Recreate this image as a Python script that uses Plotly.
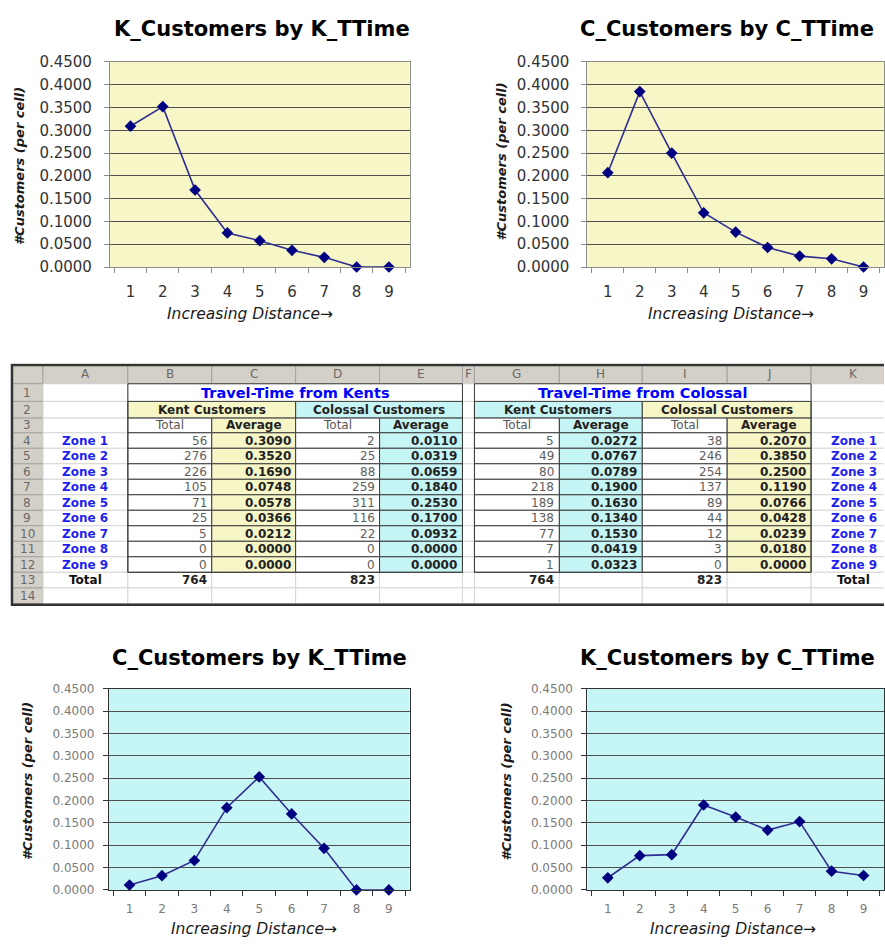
import plotly.graph_objects as go

W, H = 885, 947

# ---------------- data ----------------
distance = [1, 2, 3, 4, 5, 6, 7, 8, 9]
zones = ["Zone 1", "Zone 2", "Zone 3", "Zone 4", "Zone 5", "Zone 6", "Zone 7", "Zone 8", "Zone 9"]

# travel time measured from Kents
kt_kent_total = [56, 276, 226, 105, 71, 25, 5, 0, 0]
kt_kent_avg = [0.3090, 0.3520, 0.1690, 0.0748, 0.0578, 0.0366, 0.0212, 0.0000, 0.0000]
kt_col_total = [2, 25, 88, 259, 311, 116, 22, 0, 0]
kt_col_avg = [0.0110, 0.0319, 0.0659, 0.1840, 0.2530, 0.1700, 0.0932, 0.0000, 0.0000]

# travel time measured from Colossal
ct_kent_total = [5, 49, 80, 218, 189, 138, 77, 7, 1]
ct_kent_avg = [0.0272, 0.0767, 0.0789, 0.1900, 0.1630, 0.1340, 0.1530, 0.0419, 0.0323]
ct_col_total = [38, 246, 254, 137, 89, 44, 12, 3, 0]
ct_col_avg = [0.2070, 0.3850, 0.2500, 0.1190, 0.0766, 0.0428, 0.0239, 0.0180, 0.0000]

col_letters = ["", "A", "B", "C", "D", "E", "F", "G", "H", "I", "J", "K"]

# ---------------- styling ----------------
FONT = "DejaVu Sans"
YELLOW = "#F6F6C6"
CYAN = "#C6F5F5"
NAVY = "#000080"
LINE = "#2E2E92"
HDR_GRAY = "#D4D0C8"
LIGHT = "#D6D6D6"
DARK = "#3C3C3C"


def px(x):
    return x / W


def py(y):
    return 1 - y / H


charts = [
    dict(vals=kt_kent_avg, title="K_Customers by K_TTime", bg=YELLOW,
         box=(110, 54, 410, 263), tsize=15, tcolor="#333333", frame="#8C8C8C",
         title_xy=(262, 20), ylab_xy=(20, 160), xlab_xy=(250, 311), stand=(9, 11)),
    dict(vals=ct_col_avg, title="C_Customers by C_TTime", bg=YELLOW,
         box=(588, 54, 885, 263), tsize=15, tcolor="#333333", frame="#8C8C8C",
         title_xy=(728, 20), ylab_xy=(502, 155), xlab_xy=(732, 311), stand=(9, 11)),
    dict(vals=kt_col_avg, title="C_Customers by K_TTime", bg=CYAN,
         box=(109, 693, 410, 898), tsize=12, tcolor="#7A7A7A", frame="#333333",
         title_xy=(260, 662), ylab_xy=(27, 787), xlab_xy=(254, 938), stand=(6, 8)),
    dict(vals=ct_kent_avg, title="K_Customers by C_TTime", bg=CYAN,
         box=(588, 693, 885, 898), tsize=12, tcolor="#7A7A7A", frame="#333333",
         title_xy=(728, 662), ylab_xy=(507, 787), xlab_xy=(734, 938), stand=(6, 8)),
]

fig = go.Figure()
shapes = []
annotations = []
layout_axes = {}

for i, ch in enumerate(charts):
    n = i + 1
    xa = "x" if n == 1 else f"x{n}"
    ya = "y" if n == 1 else f"y{n}"
    x0, y0, x1, y1 = ch["box"]
    fig.add_trace(go.Scatter(
        x=[str(d) for d in distance], y=ch["vals"], mode="lines+markers",
        line=dict(color=LINE, width=1.6),
        marker=dict(symbol="diamond", size=9, color=NAVY),
        cliponaxis=False, xaxis=xa, yaxis=ya, hoverinfo="x+y",
    ))
    layout_axes["xaxis" if n == 1 else f"xaxis{n}"] = dict(
        domain=[px(x0), px(x1)], anchor=ya, type="category",
        tickson="boundaries", ticks="outside", ticklen=5, tickcolor=ch["frame"],
        showgrid=False, showline=True, linecolor=ch["frame"], linewidth=1, mirror=True,
        tickfont=dict(family=FONT, size=ch["tsize"], color=ch["tcolor"]),
        ticklabelstandoff=ch["stand"][1], fixedrange=True,
    )
    layout_axes["yaxis" if n == 1 else f"yaxis{n}"] = dict(
        domain=[py(y1), py(y0)], anchor=xa, range=[0, 0.45], dtick=0.05,
        tickformat=".4f", ticks="outside", ticklen=5, tickcolor=ch["frame"],
        showgrid=True, gridcolor="#4F4F4F", gridwidth=1, zeroline=False,
        showline=True, linecolor=ch["frame"], linewidth=1, mirror=True,
        tickfont=dict(family=FONT, size=ch["tsize"], color=ch["tcolor"]),
        ticklabelstandoff=ch["stand"][0], fixedrange=True,
    )
    # plot-area fill under the gridlines
    shapes.append(dict(type="rect", xref=f"{xa} domain", yref=f"{ya} domain",
                       x0=0, x1=1, y0=0, y1=1, fillcolor=ch["bg"],
                       line=dict(width=0), layer="below"))
    tx, ty = ch["title_xy"]
    annotations.append(dict(x=px(tx), y=py(ty), xref="paper", yref="paper",
                            text=f"<b>{ch['title']}</b>", showarrow=False,
                            font=dict(family=FONT, size=21, color="#000000"),
                            xanchor="center", yanchor="middle"))
    lx, ly = ch["ylab_xy"]
    annotations.append(dict(x=px(lx), y=py(ly), xref="paper", yref="paper",
                            text="<b><i>#Customers (per cell)</i></b>", showarrow=False,
                            textangle=-90, font=dict(family=FONT, size=13, color="#1A1A1A"),
                            xanchor="center", yanchor="middle"))
    bx, by = ch["xlab_xy"]
    annotations.append(dict(x=px(bx), y=py(by), xref="paper", yref="paper",
                            text="<i>Increasing Distance→</i>", showarrow=False,
                            font=dict(family=FONT, size=15.5, color="#1A1A1A"),
                            xanchor="center", yanchor="middle"))

# ---------------- spreadsheet grid ----------------
col_w = [31, 85, 84, 84, 84, 83, 12, 85, 83, 85, 84, 85]
row_h = [19, 18, 17, 15] + [15.8] * 9 + [16, 16]
xe = [12]
for w in col_w:
    xe.append(xe[-1] + w)
ye = [363]
for h in row_h:
    ye.append(ye[-1] + h)

TX, TY = "x5", "y5"
layout_axes["xaxis5"] = dict(domain=[px(10), 1], range=[10, W], anchor=TY,
                             visible=False, fixedrange=True)
layout_axes["yaxis5"] = dict(domain=[py(610), py(361)], range=[610, 361], anchor=TX,
                             visible=False, fixedrange=True)
fig.add_trace(go.Scatter(x=[xe[0]], y=[ye[0]], mode="markers", marker=dict(opacity=0),
                         hoverinfo="skip", xaxis=TX, yaxis=TY))


def rect(c0, c1, r0, r1, fill=None, line=None, width=1):
    shapes.append(dict(type="rect", xref=TX, yref=TY,
                       x0=xe[c0], x1=xe[c1 + 1], y0=ye[r0], y1=ye[r1 + 1],
                       fillcolor=fill or "rgba(0,0,0,0)",
                       line=dict(color=line or "rgba(0,0,0,0)", width=width),
                       layer="above"))


def text(c0, c1, r, s, align="center", color="#222222", size=12, bold=False):
    if align == "center":
        x, anchor = (xe[c0] + xe[c1 + 1]) / 2, "center"
    else:
        x, anchor = xe[c1 + 1] - 3, "right"
    annotations.append(dict(x=x, y=(ye[r] + ye[r + 1]) / 2, xref=TX, yref=TY,
                            text=f"<b>{s}</b>" if bold else s, showarrow=False,
                            xanchor=anchor, yanchor="middle",
                            font=dict(family=FONT, size=size, color=color)))


n_rows = len(row_h) - 1
# header row and row-number column
for c in range(len(col_w)):
    rect(c, c, 0, 0, fill=HDR_GRAY, line="#A3A3A3")
    text(c, c, 0, col_letters[c], color="#6A6A6A")
for r in range(1, n_rows + 1):
    rect(0, 0, r, r, fill=HDR_GRAY, line="#A3A3A3")
    text(0, 0, r, str(r), color="#6A6A6A")
# plain cells
for c in range(1, len(col_w)):
    for r in range(1, n_rows + 1):
        rect(c, c, r, r, fill="#FFFFFF", line=LIGHT)

blocks = [
    dict(c=2, title="Travel-Time from Kents", tint=[YELLOW, CYAN],
         cols=[kt_kent_total, kt_kent_avg, kt_col_total, kt_col_avg]),
    dict(c=7, title="Travel-Time from Colossal", tint=[CYAN, YELLOW],
         cols=[ct_kent_total, ct_kent_avg, ct_col_total, ct_col_avg]),
]
for b in blocks:
    c = b["c"]
    rect(c, c + 3, 1, 1, fill="#FFFFFF", line=LIGHT)
    text(c, c + 3, 1, b["title"], color="#0000FF", size=14.5, bold=True)
    for j, label in enumerate(["Kent Customers", "Colossal Customers"]):
        cc = c + 2 * j
        rect(cc, cc + 1, 2, 2, fill=b["tint"][j], line=DARK)
        text(cc, cc + 1, 2, label, color="#222222", bold=True)
        rect(cc, cc, 3, 3, fill="#FFFFFF", line=DARK)
        text(cc, cc, 3, "Total", color="#555555")
        rect(cc + 1, cc + 1, 3, 3, fill=b["tint"][j], line=DARK)
        text(cc + 1, cc + 1, 3, "Average", color="#222222", bold=True)
        tot, avg = b["cols"][2 * j], b["cols"][2 * j + 1]
        for k in range(len(zones)):
            r = 4 + k
            rect(cc, cc, r, r, fill="#FFFFFF", line=DARK)
            text(cc, cc, r, str(tot[k]), align="right", color="#5E5E5E")
            rect(cc + 1, cc + 1, r, r, fill=b["tint"][j], line=DARK)
            text(cc + 1, cc + 1, r, f"{avg[k]:.4f}", align="right", color="#222222", bold=True)
        text(cc, cc, 13, str(sum(tot)), align="right", color="#222222", bold=True)
    rect(c, c + 3, 1, 12, line=DARK)

for k, z in enumerate(zones):
    text(1, 1, 4 + k, z, color="#1F1FF0", bold=True)
    text(11, 11, 4 + k, z, color="#1F1FF0", bold=True)
text(1, 1, 13, "Total", color="#111111", bold=True)
text(11, 11, 13, "Total", color="#111111", bold=True)

# outer frame of the sheet
shapes.append(dict(type="rect", xref=TX, yref=TY, x0=xe[0], x1=xe[-1],
                   y0=ye[0], y1=ye[-1] + 1, line=dict(color="#333333", width=2.5),
                   fillcolor="rgba(0,0,0,0)", layer="above"))

fig.update_layout(
    width=W, height=H, margin=dict(l=0, r=0, t=0, b=0),
    paper_bgcolor="#FFFFFF", plot_bgcolor="rgba(0,0,0,0)",
    showlegend=False, font=dict(family=FONT),
    shapes=shapes, annotations=annotations, **layout_axes,
)

fig.write_html("out.html")
